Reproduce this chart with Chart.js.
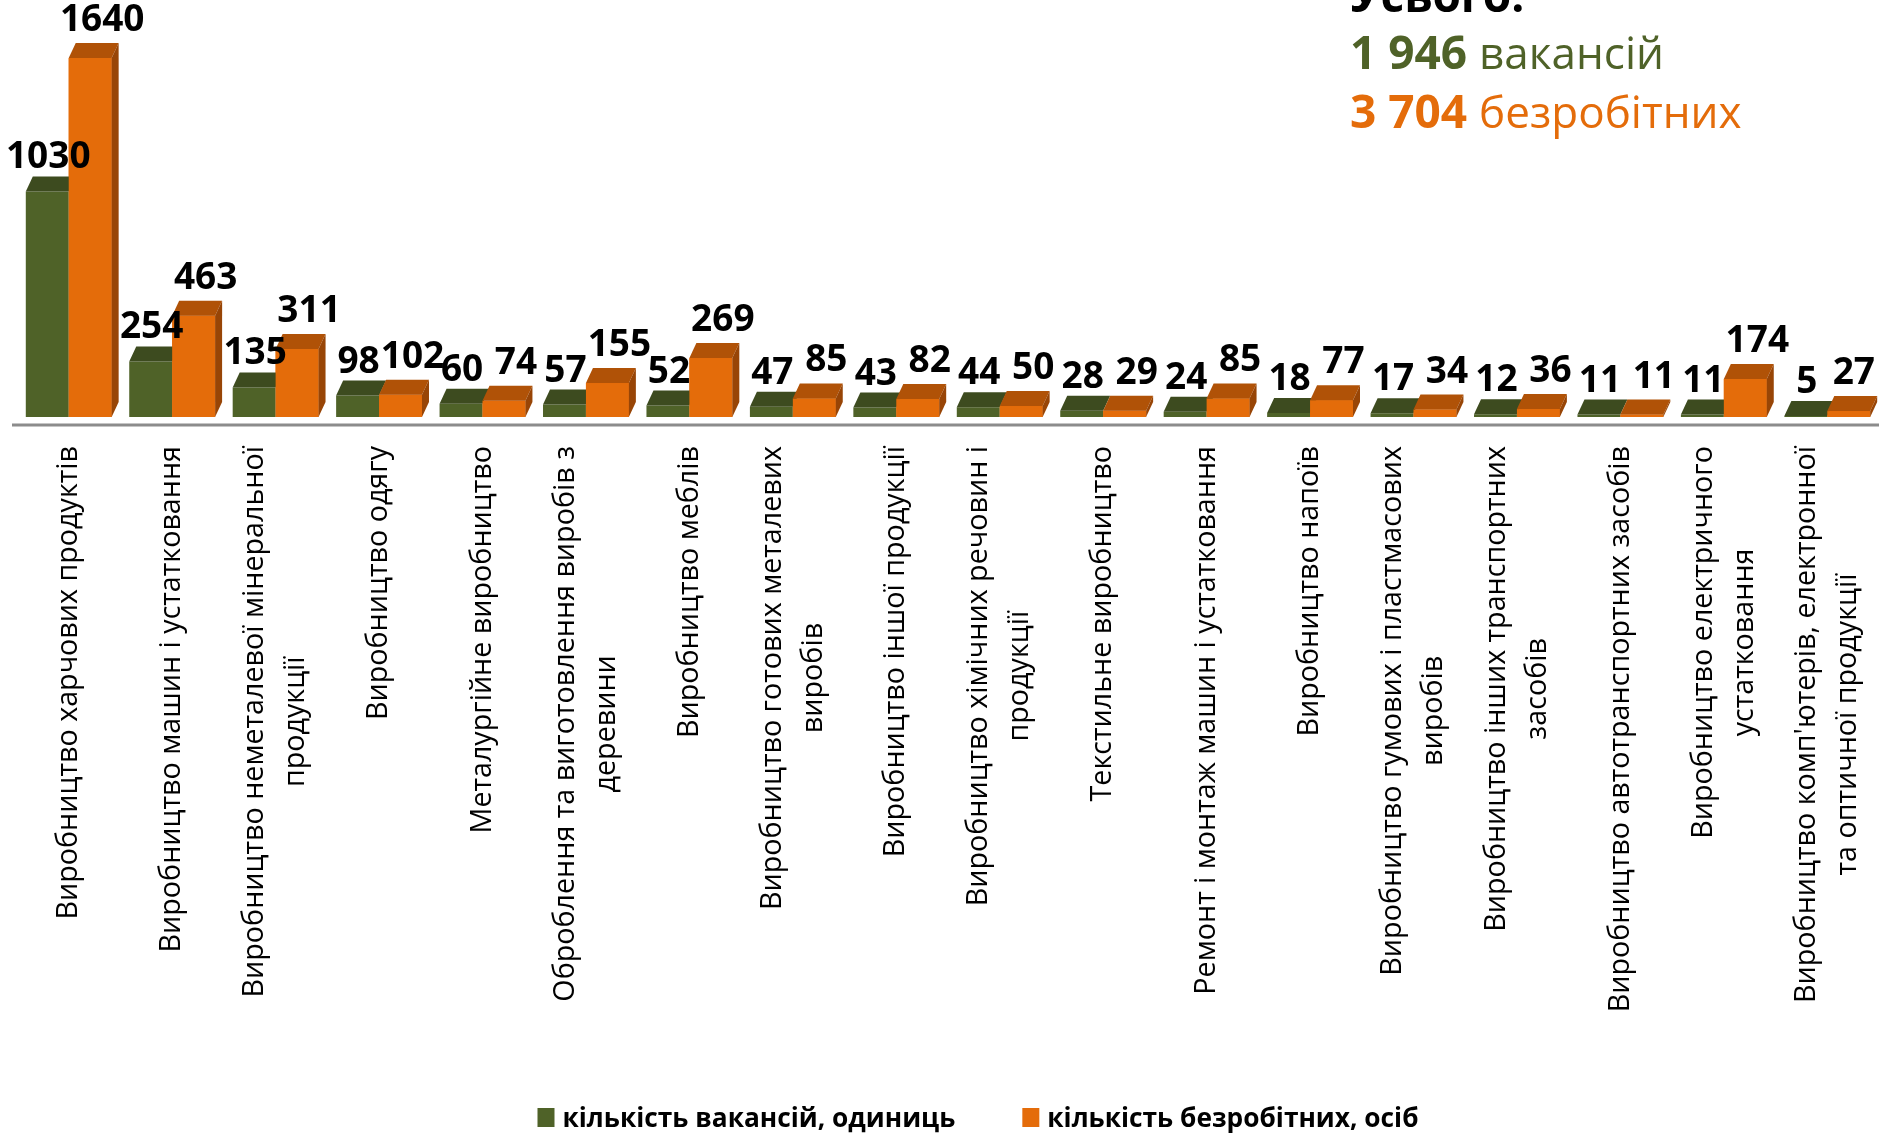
<!DOCTYPE html>
<html lang="uk">
<head>
<meta charset="utf-8">
<title>Вакансії та безробітні за видами виробництва</title>
<script src="https://cdn.jsdelivr.net/npm/chart.js@4.4.1/dist/chart.umd.min.js"></script>
<style>
    html, body { margin: 0; padding: 0; background: #ffffff; }
    canvas { display: block; }
</style>
</head>
<body>
<canvas id="grafica" width="1879" height="1133"></canvas>
<script>
// Види виробництва (підписи осі X, розбиті на рядки як у оригіналі)
const categorias = [
    ["Виробництво харчових продуктів"],
    ["Виробництво машин і устатковання"],
    ["Виробництво неметалевої мінеральної", "продукції"],
    ["Виробництво одягу"],
    ["Металургійне виробництво"],
    ["Оброблення та виготовлення виробів з", "деревини"],
    ["Виробництво меблів"],
    ["Виробництво готових металевих", "виробів"],
    ["Виробництво іншої продукції"],
    ["Виробництво хімічних речовин і", "продукції"],
    ["Текстильне виробництво"],
    ["Ремонт і монтаж машин і устатковання"],
    ["Виробництво напоїв"],
    ["Виробництво гумових і пластмасових", "виробів"],
    ["Виробництво інших транспортних", "засобів"],
    ["Виробництво автотранспортних засобів"],
    ["Виробництво електричного", "устатковання"],
    ["Виробництво комп'ютерів, електронної", "та оптичної продукції"]
];

// кількість вакансій, одиниць
const vakansii = [1030, 254, 135, 98, 60, 57, 52, 47, 43, 44, 28, 24, 18, 17, 12, 11, 11, 5];
// кількість безробітних, осіб
const bezrobitni = [1640, 463, 311, 102, 74, 155, 269, 85, 82, 50, 29, 85, 77, 34, 36, 11, 174, 27];

const nazvySerij = ["кількість вакансій, одиниць", "кількість безробітних, осіб"];
const pidsumokSlova = ["вакансій", "безробітних"];

// Кольори (передня грань, верх, бік)
const ZELENYI = "#4F6228";
const ZELENYI_VERH = "#3D4B1F";
const ORANZH = "#E46C0A";
const ORANZH_VERH = "#B05207";
const ORANZH_BIK = "#984506";
const DX = 7;   // глибина 3D по горизонталі
const DY = 15;  // глибина 3D по вертикалі

function gran(ctx, punkty, kolir) {
    ctx.beginPath();
    ctx.moveTo(punkty[0][0], punkty[0][1]);
    for (let k = 1; k < punkty.length; k++) {
        ctx.lineTo(punkty[k][0], punkty[k][1]);
    }
    ctx.closePath();
    ctx.fillStyle = kolir;
    ctx.fill();
}

function formatChislo(n) {
    return String(n).replace(/\B(?=(\d{3})+(?!\d))/g, " ");
}

// Плагін: псевдо-3D стовпчики, підписи значень, підписи категорій, легенда, підсумки
const plaginGrafika = {
    id: "plaginGrafika",
    afterDatasetsDraw(chart) {
        const ctx = chart.ctx;
        const zel = chart.getDatasetMeta(0).data;
        const orn = chart.getDatasetMeta(1).data;
        const area = chart.chartArea;
        ctx.save();

        // лінія осі
        ctx.strokeStyle = "#8C8C8C";
        ctx.lineWidth = 3;
        ctx.beginPath();
        ctx.moveTo(12, area.bottom + 8);
        ctx.lineTo(chart.width, area.bottom + 8);
        ctx.stroke();

        for (let i = 0; i < zel.length; i++) {
            const g = zel[i];
            const o = orn[i];
            const gl = g.x - g.width / 2, gr = g.x + g.width / 2;
            gran(ctx, [[gl, g.y], [gr, g.y], [gr + DX, g.y - DY], [gl + DX, g.y - DY]], ZELENYI_VERH);

            const ol = o.x - o.width / 2, or = o.x + o.width / 2;
            ctx.fillStyle = ORANZH;
            ctx.fillRect(ol, o.y, o.width, o.base - o.y);
            gran(ctx, [[ol, o.y], [or, o.y], [or + DX, o.y - DY], [ol + DX, o.y - DY]], ORANZH_VERH);
            gran(ctx, [[or, o.y], [or + DX, o.y - DY], [or + DX, o.base - DY], [or, o.base]], ORANZH_BIK);
        }

        // підписи значень (не виходять за правий край)
        ctx.font = "bold 37px 'Open Sans'";
        ctx.fillStyle = "#000000";
        ctx.textAlign = "center";
        ctx.textBaseline = "alphabetic";
        for (let i = 0; i < zel.length; i++) {
            ctx.fillText(String(vakansii[i]), zel[i].x + 1, zel[i].y - DY - 8);
            const t = String(bezrobitni[i]);
            const w = ctx.measureText(t).width;
            const x = Math.min(orn[i].x + 12, chart.width - w / 2 - 4);
            ctx.fillText(t, x, orn[i].y - DY - 12);
        }

        // підписи категорій (вертикально, рядки по центру)
        const xScale = chart.scales.x;
        ctx.font = "28.7px 'Open Sans'";
        ctx.textAlign = "center";
        ctx.textBaseline = "middle";
        const rjadok = 41;
        categorias.forEach(function (ryadky, i) {
            const x = xScale.getPixelForValue(i);
            const maxW = Math.max.apply(null, ryadky.map(function (t) { return ctx.measureText(t).width; }));
            ctx.save();
            ctx.translate(x, 446);
            ctx.rotate(-Math.PI / 2);
            ryadky.forEach(function (t, k) {
                ctx.fillText(t, -maxW / 2, (k - (ryadky.length - 1) / 2) * rjadok);
            });
            ctx.restore();
        });

        // легенда
        ctx.font = "bold 26.3px 'Open Sans'";
        ctx.textAlign = "left";
        ctx.textBaseline = "alphabetic";
        const kolory = [ZELENYI, ORANZH];
        const shyryny = nazvySerij.map(function (t) { return ctx.measureText(t).width; });
        const promizhok = 67;
        const povna = 25 + shyryny[0] + promizhok + 25 + shyryny[1];
        let lx = 978 - povna / 2;
        nazvySerij.forEach(function (t, k) {
            ctx.fillStyle = kolory[k];
            ctx.fillRect(lx, 1108, 17, 19);
            ctx.fillStyle = "#000000";
            ctx.fillText(t, lx + 25, 1127);
            lx += 25 + shyryny[k] + promizhok;
        });

        // підсумки
        const sumy = [
            vakansii.reduce(function (a, b) { return a + b; }, 0),
            bezrobitni.reduce(function (a, b) { return a + b; }, 0)
        ];
        ctx.font = "bold 46px 'Open Sans'";
        ctx.fillStyle = "#000000";
        ctx.fillText("Усього:", 1350, 12);
        [69, 128].forEach(function (by, k) {
            const chislo = formatChislo(sumy[k]) + " ";
            ctx.fillStyle = kolory[k];
            ctx.font = "bold 46px 'Open Sans'";
            ctx.fillText(chislo, 1350, by);
            const w = ctx.measureText(chislo).width;
            ctx.font = "44px 'Open Sans'";
            ctx.fillText(pidsumokSlova[k], 1350 + w, by);
        });

        ctx.restore();
    }
};

const ctx = document.getElementById("grafica").getContext("2d");
const grafica = new Chart(ctx, {
    type: "bar",
    data: {
        labels: categorias,
        datasets: [
            {
                label: nazvySerij[0],
                data: vakansii,
                backgroundColor: ZELENYI,
                borderWidth: 0
            },
            {
                label: nazvySerij[1],
                data: bezrobitni,
                backgroundColor: ORANZH,
                borderWidth: 0
            }
        ]
    },
    options: {
        responsive: false,
        animation: false,
        devicePixelRatio: 1,
        layout: {
            padding: { left: 17, right: -6, top: 1, bottom: 716 }
        },
        datasets: {
            bar: {
                categoryPercentage: 0.83,
                barPercentage: 1.0
            }
        },
        scales: {
            x: { display: false },
            y: { display: false, min: 0, max: 1900 }
        },
        plugins: {
            legend: { display: false },
            tooltip: { enabled: false }
        }
    },
    plugins: [plaginGrafika]
});
</script>
</body>
</html>
